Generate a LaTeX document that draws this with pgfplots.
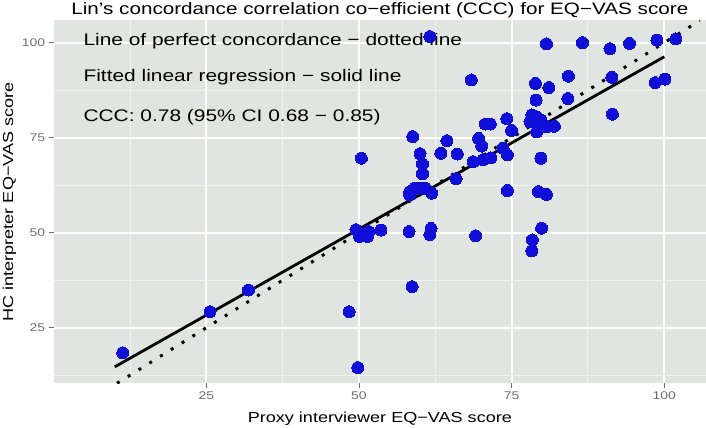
\documentclass[border=0pt]{standalone}
\usepackage{fontspec}
\setmainfont{Liberation Sans}[FakeStretch=1.25]
\usepackage{pgfplots}
\pgfplotsset{compat=1.18}
\definecolor{panelbg}{RGB}{225,229,225}
\definecolor{ptblue}{RGB}{15,15,215}
\definecolor{tickgray}{RGB}{110,110,110}
\definecolor{minorgrid}{RGB}{241,243,241}
\begin{document}
\begin{tikzpicture}
\begin{axis}[
  at={(0,0)}, anchor=south west,
  scale only axis, width=652.3bp, height=362.8bp,
  xmin=0, xmax=106.83, ymin=10.37, ymax=105.84,
  axis background/.style={fill=panelbg},
  axis line style={draw=none},
  xtick={25,50,75,100}, ytick={25,50,75,100},
  minor xtick={12.5,37.5,62.5,87.5}, minor ytick={12.5,37.5,62.5,87.5},
  grid=both,
  major grid style={draw=white, line width=2bp},
  minor grid style={draw=minorgrid, line width=1bp},
  tick pos=left, tick align=outside,
  major tick length=5bp, minor tick length=0pt,
  major tick style={draw=tickgray, line width=1bp},
  minor tick style={draw=none},
  tick label style={font=\fontsize{11.2}{13}\selectfont, text=tickgray},
  /pgf/number format/assume math mode=true,
]
\node[anchor=base west, inner sep=0pt, font=\fontsize{16.8}{20}\selectfont] at (axis cs:4.85,99.2) {Line of perfect concordance − dotted line};
\node[anchor=base west, inner sep=0pt, font=\fontsize{16.8}{20}\selectfont] at (axis cs:4.85,89.9) {Fitted linear regression − solid line};
\node[anchor=base west, inner sep=0pt, font=\fontsize{16.8}{20}\selectfont] at (axis cs:4.85,79.2) {CCC: 0.78 (95\% CI 0.68 − 0.85)};
\addplot[only marks, color=ptblue, mark=*, mark size=6bp, mark options={draw=ptblue, fill=ptblue, line width=0pt}] coordinates {
(11.3,18.4) (25.6,29.2) (31.9,34.9) (48.4,29.2) (49.8,14.5) (58.7,35.8)
(49.5,50.8) (50.1,49.0) (51.4,49.0) (51.6,50.3) (50.0,50.0) (53.6,50.7)
(58.2,50.3) (61.8,51.1) (61.6,49.5) (69.1,49.2) (50.4,69.6) (58.8,75.3)
(60.0,70.8) (60.4,68.1) (60.4,65.5) (58.3,60.8) (58.3,59.9) (59.2,61.7)
(60.0,61.7) (60.8,61.7) (61.9,60.4) (63.4,70.9) (64.4,74.2) (66.1,70.7)
(65.9,64.2) (61.6,101.6) (68.4,90.2) (70.7,78.6) (71.5,78.6) (69.6,74.8)
(70.1,72.8) (68.7,68.7) (70.3,69.2) (71.6,69.7) (73.6,72.2) (74.3,70.5)
(74.2,80.0) (75.0,76.9) (74.3,61.1) (79.4,60.8) (80.7,60.1) (79.9,51.2)
(78.4,48.1) (78.3,45.2) (78.3,81.0) (79.1,80.5) (79.8,79.7) (78.0,79.2)
(79.4,77.9) (80.7,77.9) (82.0,78.0) (79.1,76.5) (79.8,69.6) (78.9,89.3)
(81.1,88.2) (79.0,84.9) (84.2,85.3) (84.3,91.2) (80.7,99.7) (86.6,100.0)
(91.1,98.4) (94.3,99.8) (98.8,100.7) (101.9,101.0) (91.4,90.9) (98.5,89.5)
(100.1,90.4) (91.5,81.2)
};
\addplot[black, line width=2.8bp] coordinates {(10,14.7) (100,96.3)};
\addplot[black, line width=3bp, dash pattern=on 3bp off 9.7bp] coordinates {(10.37,10.37) (105.8,105.8)};
\end{axis}
\node[anchor=base, inner sep=0pt, font=\fontsize{16.6}{19}\selectfont] at (326.15bp,368.3bp) {Lin’s concordance correlation co−efficient (CCC) for EQ−VAS score};
\node[anchor=base, inner sep=0pt, font=\fontsize{14.5}{18}\selectfont] at (326.15bp,-38.7bp) {Proxy interviewer EQ−VAS score};
\node[anchor=base, rotate=90, inner sep=0pt, font=\fontsize{14.5}{18}\selectfont] at (-40.5bp,181.4bp) {HC interpreter EQ−VAS score};
\pgfresetboundingbox
\path[use as bounding box] (-53.7bp,-44.7bp) rectangle (652.3bp,383.3bp);
\end{tikzpicture}
\end{document}
